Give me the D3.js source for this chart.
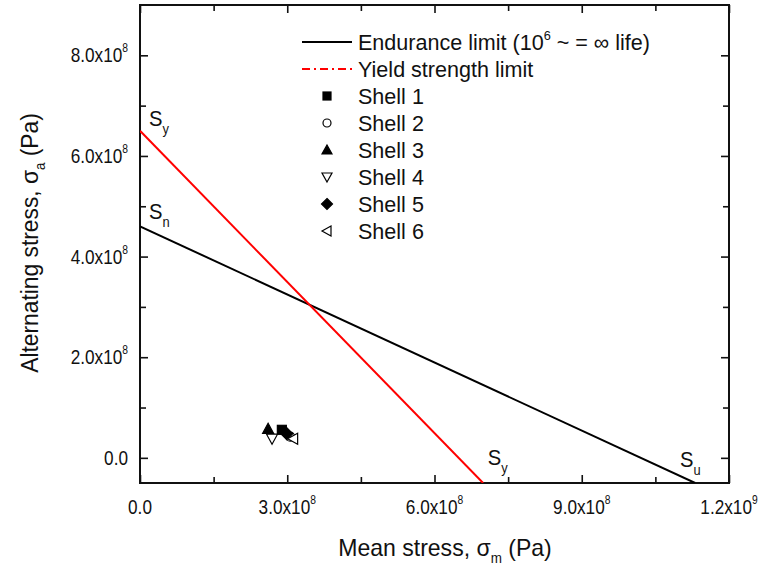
<!DOCTYPE html>
<html><head><meta charset="utf-8">
<script src="https://cdn.jsdelivr.net/npm/d3@7"></script>
<style>body{margin:0;background:#fff} text{font-family:"Liberation Sans",Arial,sans-serif;fill:#111}</style>
</head><body><svg id="c" width="768" height="566"></svg>
<script>
// ---- data ----
const xTicks = [0, 3e8, 6e8, 9e8, 1.2e9];
const xTickBase = ["0.0", "3.0x10", "6.0x10", "9.0x10", "1.2x10"];
const xTickExp = ["", "8", "8", "8", "9"];
const xMinorTicks = [1.5e8, 4.5e8, 7.5e8, 1.05e9];
const yTicks = [0, 2e8, 4e8, 6e8, 8e8];
const yTickBase = ["0.0", "2.0x10", "4.0x10", "6.0x10", "8.0x10"];
const yTickExp = ["", "8", "8", "8", "8"];
const yMinorTicks = [1e8, 3e8, 5e8, 7e8];
const enduranceX = [0, 1.131e9];
const enduranceY = [4.6e8, -0.5e8];
const yieldX = [0, 6.99e8];
const yieldY = [6.5e8, -0.5e8];
const shellNames = ["Shell 1", "Shell 2", "Shell 3", "Shell 4", "Shell 5", "Shell 6"];
const shellX = [2.89e8, 3.06e8, 2.61e8, 2.69e8, 2.99e8, 3.12e8];
const shellY = [0.557e8, 0.42e8, 0.577e8, 0.38e8, 0.48e8, 0.38e8];
const shellSymbols = ["square", "circle", "triUp", "triDown", "diamond", "triLeft"];
const legendLabels = ["Endurance limit (10", "Yield strength limit"];

// ---- layout ----
const L = 140, R = 729, T = 5, B = 483;
const svg = d3.select("#c");
const x = d3.scaleLinear().domain([0, 1.2e9]).range([L, R]);
const y = d3.scaleLinear().domain([-0.5e8, 9e8]).range([B, T]);

svg.append("clipPath").attr("id", "clip").append("rect")
  .attr("x", L).attr("y", T).attr("width", R - L).attr("height", B - T);

// axes (ticks inward on all four sides)
const tickLen = 8, minorLen = 6;
function addAxis(gen, tx, ty, major, minor) {
  const g = svg.append("g").attr("transform", `translate(${tx},${ty})`);
  g.call(gen.tickValues(major).tickSize(tickLen).tickFormat(""));
  const gm = svg.append("g").attr("transform", `translate(${tx},${ty})`);
  gm.call(gen.tickValues(minor).tickSize(minorLen).tickFormat(""));
  [g, gm].forEach(s => { s.select(".domain").remove(); s.selectAll("line").attr("stroke", "#111").attr("stroke-width", 1.6); });
}
addAxis(d3.axisTop(x), 0, B, xTicks, xMinorTicks);
addAxis(d3.axisBottom(x), 0, T, xTicks, xMinorTicks);
addAxis(d3.axisRight(y), L, 0, yTicks, yMinorTicks);
addAxis(d3.axisLeft(y), R, 0, yTicks, yMinorTicks);
svg.append("rect").attr("x", L).attr("y", T).attr("width", R - L).attr("height", B - T)
  .attr("fill", "none").attr("stroke", "#111").attr("stroke-width", 2);

// condensed text helper
function ctext(px, py, anchor, size, sx, rot) {
  const g = svg.append("g").attr("transform", `translate(${px},${py})${rot ? " rotate(" + rot + ")" : ""} scale(${sx},1)`);
  return g.append("text").attr("text-anchor", anchor).attr("font-size", size);
}

// tick labels
const fs = 20, sx = 0.86;
xTicks.forEach((v, i) => {
  const t = ctext(x(v), B + 31, "middle", fs, sx);
  t.append("tspan").text(xTickBase[i]);
  if (xTickExp[i]) t.append("tspan").attr("dy", -10).attr("font-size", 12).text(xTickExp[i]);
});
yTicks.forEach((v, i) => {
  const t = ctext(L - 12, y(v) + 7, "end", fs, sx);
  t.append("tspan").text(yTickBase[i]);
  if (yTickExp[i]) t.append("tspan").attr("dy", -10).attr("font-size", 12).text(yTickExp[i]);
});

// axis titles
const xt = ctext(445, 556, "middle", 24, 0.96);
xt.append("tspan").text("Mean stress, σ");
xt.append("tspan").attr("dy", 7).attr("font-size", 14).text("m");
xt.append("tspan").attr("dy", -7).text(" (Pa)");
const yt = ctext(38, 243, "middle", 24, 0.95, -90);
yt.append("tspan").text("Alternating stress, σ");
yt.append("tspan").attr("dy", 7).attr("font-size", 14).text("a");
yt.append("tspan").attr("dy", -7).text(" (Pa)");

// lines
const line = d3.line().x(d => x(d[0])).y(d => y(d[1]));
const plot = svg.append("g").attr("clip-path", "url(#clip)");
plot.append("path").datum(enduranceX.map((v, i) => [v, enduranceY[i]]))
  .attr("d", line).attr("fill", "none").attr("stroke", "#000").attr("stroke-width", 2);
plot.append("path").datum(yieldX.map((v, i) => [v, yieldY[i]]))
  .attr("d", line).attr("fill", "none").attr("stroke", "#ff0000").attr("stroke-width", 2);

// symbols
function sym(g, type, cx, cy, s) {
  const h = s / 2;
  let p;
  if (type === "square") p = g.append("rect").attr("x", cx - h).attr("y", cy - h).attr("width", s).attr("height", s);
  else if (type === "circle") p = g.append("circle").attr("cx", cx).attr("cy", cy).attr("r", h);
  else {
    let pts;
    if (type === "triUp") pts = [[cx, cy - h - 1], [cx + h + 1, cy + h], [cx - h - 1, cy + h]];
    if (type === "triDown") pts = [[cx, cy + h + 1], [cx + h + 1, cy - h], [cx - h - 1, cy - h]];
    if (type === "triLeft") pts = [[cx - h - 1, cy], [cx + h, cy - h - 1], [cx + h, cy + h + 1]];
    if (type === "diamond") pts = [[cx, cy - h - 1.5], [cx + h + 1.5, cy], [cx, cy + h + 1.5], [cx - h - 1.5, cy]];
    p = g.append("polygon").attr("points", pts.map(q => q.join(",")).join(" "));
  }
  const filled = ["square", "triUp", "diamond"].includes(type);
  p.attr("fill", filled ? "#000" : "#fff").attr("stroke", "#000").attr("stroke-width", 1.2);
}
shellNames.forEach((n, i) => sym(plot, shellSymbols[i], x(shellX[i]), y(shellY[i]), 9));

// annotations
function ann(px, py, main, sub) {
  const t = ctext(px, py, "start", 22, 0.92);
  t.append("tspan").text(main);
  t.append("tspan").attr("dy", 8).attr("font-size", 14).text(sub);
}
ann(x(0) + 9, y(6.5e8) - 5, "S", "y");
ann(x(0) + 9, y(4.6e8) - 7, "S", "n");
ann(x(6.9e8) + 9, y(0) + 7, "S", "y");
ann(x(1.1e9) + 0, y(0) + 9, "S", "u");

// legend
const lx = 302, lx2 = 352, tx = 358, ly0 = 42, dy = 27;
svg.append("line").attr("x1", lx).attr("x2", lx2).attr("y1", ly0).attr("y2", ly0).attr("stroke", "#000").attr("stroke-width", 2);
svg.append("line").attr("x1", lx).attr("x2", lx2).attr("y1", ly0 + dy).attr("y2", ly0 + dy)
  .attr("stroke", "#ff0000").attr("stroke-width", 2).attr("stroke-dasharray", "8,4,2,4");
const lt = ctext(tx, ly0 + 8, "start", 22, 0.98);
lt.append("tspan").text(legendLabels[0]);
lt.append("tspan").attr("dy", -10).attr("font-size", 13).text("6");
lt.append("tspan").attr("dy", 10).text(" ~ = ∞ life)");
ctext(tx, ly0 + dy + 8, "start", 22, 0.98).text(legendLabels[1]);
shellNames.forEach((n, i) => {
  const cy = ly0 + dy * (i + 2);
  sym(svg, shellSymbols[i], 327, cy, 8);
  ctext(tx, cy + 8, "start", 22, 0.98).text(n);
});
</script></body></html>
